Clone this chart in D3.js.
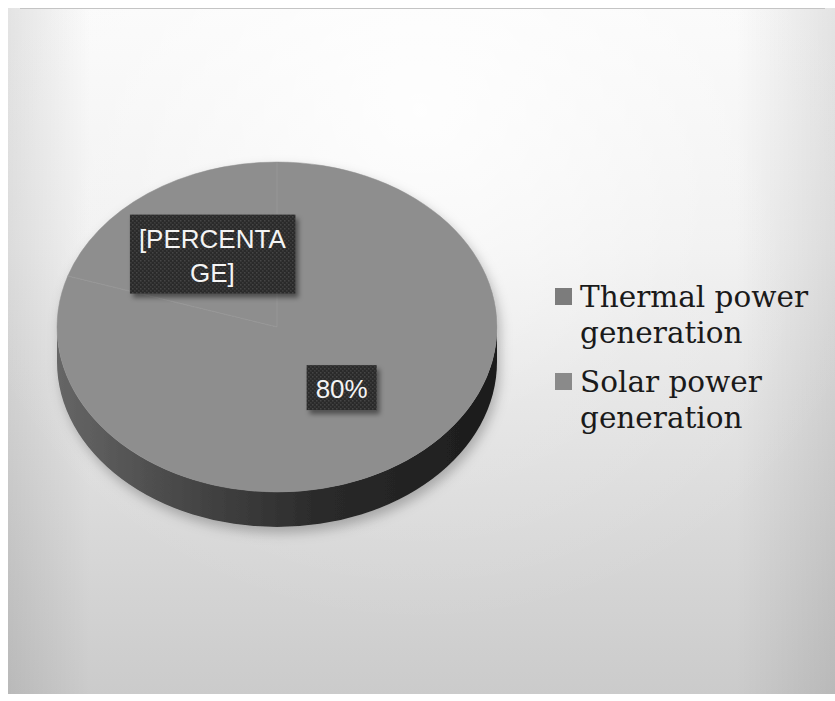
<!DOCTYPE html>
<html>
<head>
<meta charset="utf-8">
<script src="https://cdn.jsdelivr.net/npm/d3@7"></script>
<style>
  html, body { margin: 0; padding: 0; background: #ffffff; }
  svg { display: block; }
</style>
</head>
<body>
<svg id="chart" width="835" height="701"></svg>
<script>
// Share of electricity generation
const categories = ["Thermal power generation", "Solar power generation"];
const values = [80, 20];
const sliceLabels = [["80%"], ["[PERCENTA", "GE]"]];
const legendLines = [["Thermal power", "generation"], ["Solar power", "generation"]];

const W = 835, H = 701;
const svg = d3.select("#chart");
const defs = svg.append("defs");

// ---- background panel ----
const bg = defs.append("linearGradient").attr("id", "bgV")
  .attr("x1", 0).attr("y1", 0).attr("x2", 0).attr("y2", 1);
bg.append("stop").attr("offset", 0).attr("stop-color", "#fafafa");
bg.append("stop").attr("offset", 0.35).attr("stop-color", "#f0f0f0");
bg.append("stop").attr("offset", 1).attr("stop-color", "#cbcbcb");

const glow = defs.append("radialGradient").attr("id", "bgGlow")
  .attr("gradientUnits", "userSpaceOnUse")
  .attr("cx", 420).attr("cy", 110).attr("r", 520);
glow.append("stop").attr("offset", 0).attr("stop-color", "#ffffff").attr("stop-opacity", 0.85);
glow.append("stop").attr("offset", 0.6).attr("stop-color", "#ffffff").attr("stop-opacity", 0.15);
glow.append("stop").attr("offset", 1).attr("stop-color", "#ffffff").attr("stop-opacity", 0);

const vign = defs.append("linearGradient").attr("id", "bgSides")
  .attr("x1", 0).attr("y1", 0).attr("x2", 1).attr("y2", 0);
vign.append("stop").attr("offset", 0).attr("stop-color", "#000").attr("stop-opacity", 0.09);
vign.append("stop").attr("offset", 0.1).attr("stop-color", "#000").attr("stop-opacity", 0);
vign.append("stop").attr("offset", 0.88).attr("stop-color", "#000").attr("stop-opacity", 0);
vign.append("stop").attr("offset", 1).attr("stop-color", "#000").attr("stop-opacity", 0.09);

const panel = { x: 8, y: 8, w: W - 8, h: H - 15 };
svg.append("rect").attr("width", W).attr("height", H).attr("fill", "#ffffff");
svg.append("rect").attr("x", panel.x).attr("y", panel.y).attr("width", panel.w).attr("height", panel.h).attr("fill", "url(#bgV)");
svg.append("rect").attr("x", panel.x).attr("y", panel.y).attr("width", panel.w).attr("height", panel.h).attr("fill", "url(#bgGlow)");
svg.append("rect").attr("x", panel.x).attr("y", panel.y).attr("width", panel.w).attr("height", panel.h).attr("fill", "url(#bgSides)");
svg.append("line").attr("x1", 20).attr("x2", W - 10).attr("y1", 8.5).attr("y2", 8.5)
  .attr("stroke", "#c4c4c4").attr("stroke-width", 1);

// ---- filters ----
const pieShadow = defs.append("filter").attr("id", "pieShadow")
  .attr("x", "-10%").attr("y", "-10%").attr("width", "120%").attr("height", "130%");
pieShadow.append("feDropShadow").attr("dx", 3).attr("dy", 6).attr("stdDeviation", 6)
  .attr("flood-color", "#000").attr("flood-opacity", 0.25);

const boxShadow = defs.append("filter").attr("id", "boxShadow")
  .attr("x", "-20%").attr("y", "-20%").attr("width", "150%").attr("height", "160%");
boxShadow.append("feDropShadow").attr("dx", 3).attr("dy", 4).attr("stdDeviation", 2.5)
  .attr("flood-color", "#000").attr("flood-opacity", 0.45);

// dotted dark texture for the data label boxes
const pat = defs.append("pattern").attr("id", "boxTex")
  .attr("patternUnits", "userSpaceOnUse").attr("width", 4).attr("height", 4);
pat.append("rect").attr("width", 4).attr("height", 4).attr("fill", "#2c2c2c");
pat.append("rect").attr("x", 0).attr("y", 0).attr("width", 1.5).attr("height", 1.5).attr("fill", "#454545");
pat.append("rect").attr("x", 2).attr("y", 2).attr("width", 1.5).attr("height", 1.5).attr("fill", "#3d3d3d");

// side wall shading
const sideGrad = defs.append("linearGradient").attr("id", "sideGrad")
  .attr("gradientUnits", "userSpaceOnUse")
  .attr("x1", 57).attr("y1", 0).attr("x2", 497).attr("y2", 0);
sideGrad.append("stop").attr("offset", 0).attr("stop-color", "#666666");
sideGrad.append("stop").attr("offset", 0.3).attr("stop-color", "#464646");
sideGrad.append("stop").attr("offset", 0.6).attr("stop-color", "#2a2a2a");
sideGrad.append("stop").attr("offset", 1).attr("stop-color", "#1c1c1c");

// ---- 3D pie geometry ----
const cx = 277, cy = 327, rx = 220, ry = 165, depth = 35;
const color = d3.scaleOrdinal().domain(categories).range(["#8e8e8e", "#8e8e8e"]);
const swatch = d3.scaleOrdinal().domain(categories).range(["#7c7c7c", "#8a8a8a"]);

const pie = d3.pie().sort(null).value(d => d.value);
const arcs = pie(categories.map((c, i) => ({ name: c, value: values[i], label: sliceLabels[i] })));

// point on the top ellipse at pie angle a (0 = 12 o'clock, clockwise)
const pt = (a, k = 1, dy = 0) => [cx + k * rx * Math.sin(a), cy - k * ry * Math.cos(a) + dy];

function topPath(d) {
  const [x0, y0] = pt(d.startAngle), [x1, y1] = pt(d.endAngle);
  const large = d.endAngle - d.startAngle > Math.PI ? 1 : 0;
  return `M${cx},${cy}L${x0},${y0}A${rx},${ry} 0 ${large} 1 ${x1},${y1}Z`;
}

function sidePath(d) {
  const a0 = Math.max(d.startAngle, Math.PI / 2), a1 = Math.min(d.endAngle, 3 * Math.PI / 2);
  if (a1 <= a0) return null;
  const [x0, y0] = pt(a0), [x1, y1] = pt(a1);
  const large = a1 - a0 > Math.PI ? 1 : 0;
  return `M${x0},${y0}A${rx},${ry} 0 ${large} 1 ${x1},${y1}` +
         `L${x1},${y1 + depth}A${rx},${ry} 0 ${large} 0 ${x0},${y0 + depth}Z`;
}

const pieG = svg.append("g").attr("filter", "url(#pieShadow)");
pieG.selectAll("path.side").data(arcs.filter(d => sidePath(d))).join("path")
  .attr("class", "side").attr("d", sidePath).attr("fill", "url(#sideGrad)");
pieG.selectAll("path.top").data(arcs).join("path")
  .attr("class", "top").attr("d", topPath)
  .attr("fill", d => color(d.data.name))
  .attr("stroke", d => color(d.data.name)).attr("stroke-width", 0.5);
// faint seams between the slices
pieG.selectAll("line.seam").data(arcs).join("line")
  .attr("class", "seam")
  .attr("x1", cx).attr("y1", cy)
  .attr("x2", d => pt(d.startAngle)[0]).attr("y2", d => pt(d.startAngle)[1])
  .attr("stroke", "#a8a8a8").attr("stroke-opacity", 0.25).attr("stroke-width", 1.5);

// ---- data labels ----
const labelFont = "'Liberation Sans', Arial, sans-serif";
const labelSize = 26, lineGap = 34;
const labG = svg.append("g");
arcs.forEach(d => {
  const mid = (d.startAngle + d.endAngle) / 2;
  const [lx, ly] = pt(mid, 0.5);
  const g = labG.append("g");
  const lines = d.data.label;
  const firstBase = ly - (lines.length - 1) * lineGap / 2 + labelSize * 0.36 - 5;
  const rect = g.append("rect").attr("fill", "url(#boxTex)").attr("filter", "url(#boxShadow)");
  const t = g.append("text").attr("text-anchor", "middle")
    .attr("font-family", labelFont).attr("font-size", labelSize).attr("fill", "#f4f4f4");
  lines.forEach((s, i) => t.append("tspan").attr("x", lx).attr("y", firstBase + i * lineGap).text(s));
  const bb = t.node().getBBox();
  rect.attr("x", bb.x - 9).attr("y", bb.y - 9).attr("width", bb.width + 18).attr("height", bb.height + 15);
});

// ---- legend ----
const legFont = "'DejaVu Serif', 'Liberation Serif', serif";
const legSize = 29.5;
const legX = 580, legY0 = 307, legLine = 36, legItemGap = 85;
const legG = svg.append("g");
categories.forEach((c, i) => {
  const y = legY0 + i * legItemGap;
  legG.append("rect").attr("x", legX - 25).attr("y", y - 19).attr("width", 17).attr("height", 17)
    .attr("fill", swatch(c));
  const t = legG.append("text").attr("font-family", legFont).attr("font-size", legSize).attr("fill", "#1a1a1a");
  legendLines[i].forEach((s, j) => t.append("tspan").attr("x", legX).attr("y", y + j * legLine).text(s));
});
</script>
</body>
</html>
